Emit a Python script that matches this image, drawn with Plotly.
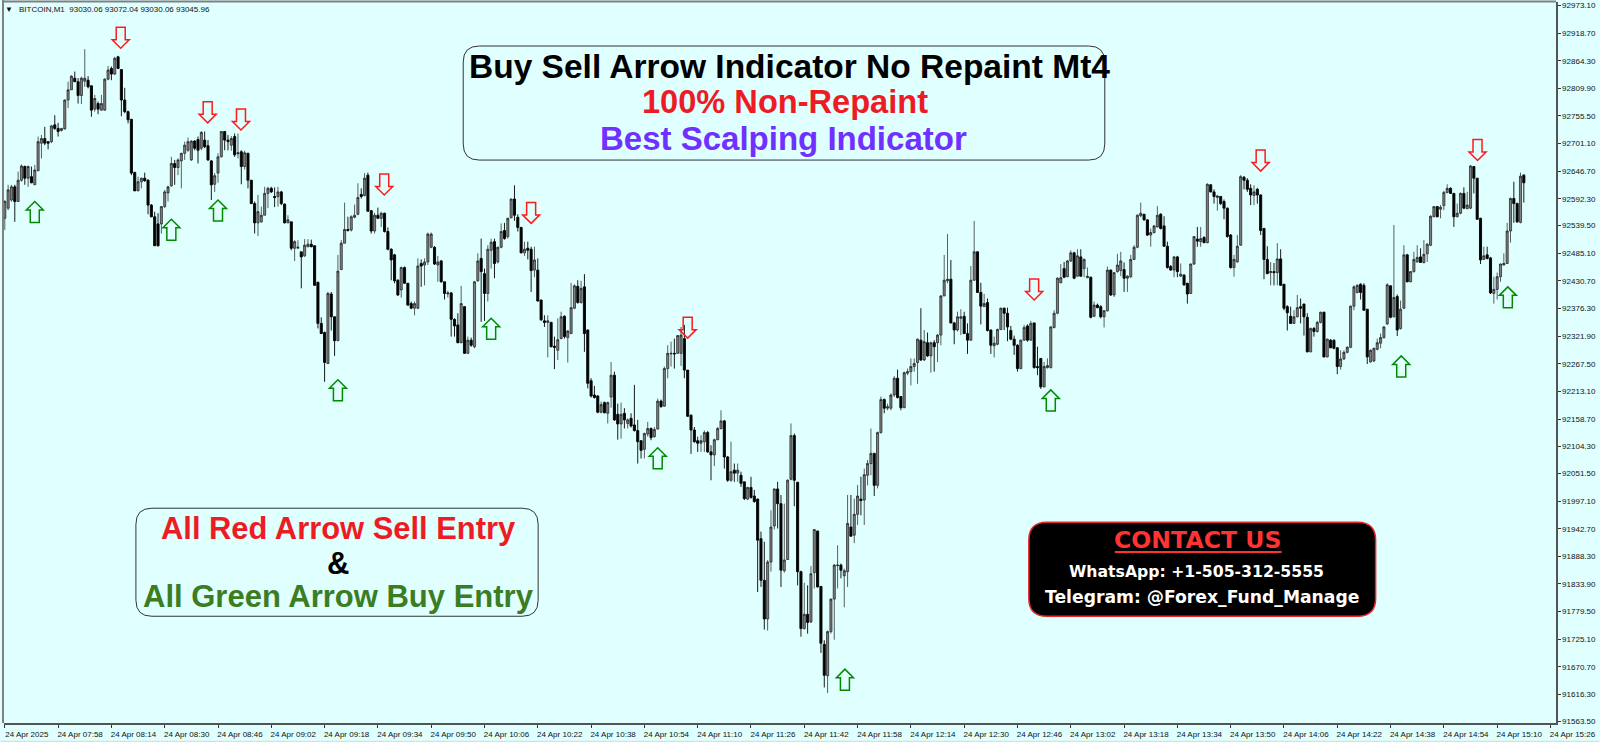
import plotly.graph_objects as go

# One-minute BITCOIN candles, 16 candles per row (one row per time-axis tick).
opens = [
92554,92574,92590,92616,92587,92629,92656,92633,92636,92620,92648,92702,92711,92705,92705,92738,
92731,92727,92730,92787,92807,92830,92823,92796,92824,92826,92815,92769,92780,92767,92767,92828,
92849,92838,92872,92847,92787,92764,92749,92644,92608,92626,92633,92629,92580,92557,92543,92543,
92577,92604,92618,92662,92654,92667,92682,92688,92669,92706,92709,92692,92708,92697,92667,92621,
92643,92675,92725,92708,92698,92715,92681,92685,92656,92682,92629,92583,92545,92547,92560,92603,
92613,92597,92597,92606,92582,92545,92547,92495,92495,92488,92480,92498,92503,92500,92428,92347,
92329,92268,92405,92360,92313,92453,92505,92532,92531,92556,92562,92601,92599,92639,92569,92529,
92560,92554,92564,92528,92493,92482,92432,92413,92457,92426,92386,92377,92377,92465,92462,92468,
92497,92497,92462,92470,92429,92405,92407,92355,92344,92309,92380,92288,92314,92301,92431,92475,
92445,92406,92491,92508,92468,92497,92530,92518,92555,92592,92556,92536,92486,92495,92493,92452,
92452,92393,92352,92349,92349,92302,92294,92317,92361,92319,92327,92377,92420,92388,92419,92334,
92234,92206,92204,92172,92191,92170,92202,92245,92168,92149,92170,92150,92160,92147,92136,92116,
92099,92129,92140,92124,92139,92194,92184,92258,92287,92288,92288,92288,92317,92255,92166,92137,
92116,92111,92114,92132,92094,92088,92118,92140,92155,92084,92038,92058,92052,92048,92035,92001,
92024,92007,92001,91923,91841,91765,91877,91948,92021,91992,91860,91882,92040,92126,92034,91858,
91746,91774,91759,91856,91938,91829,91715,91653,91740,91804,91870,91871,91850,91858,91946,91930,
91971,92001,91999,92048,92071,92091,92028,92132,92197,92180,92180,92206,92239,92203,92181,92249,
92252,92262,92270,92314,92275,92309,92283,92309,92309,92324,92401,92431,92434,92348,92334,92357,
92361,92327,92314,92432,92488,92408,92380,92388,92334,92303,92306,92335,92377,92367,92333,92316,
92304,92258,92314,92342,92314,92348,92262,92278,92222,92260,92260,92339,92367,92427,92455,92439,
92470,92486,92440,92478,92455,92437,92438,92361,92383,92380,92360,92372,92452,92403,92449,92451,
92453,92436,92439,92473,92497,92559,92562,92551,92521,92526,92537,92562,92539,92499,92459,92452,
92478,92440,92442,92426,92406,92464,92513,92508,92516,92506,92620,92606,92595,92597,92587,92574,
92521,92457,92468,92501,92635,92629,92613,92599,92611,92600,92534,92473,92447,92449,92447,92474,
92424,92380,92361,92347,92360,92380,92385,92359,92291,92337,92331,92349,92369,92281,92314,92314,
92299,92262,92277,92290,92300,92381,92408,92424,92422,92375,92271,92273,92296,92308,92319,92346,
92421,92360,92400,92337,92377,92482,92429,92449,92468,92478,92467,92484,92501,92557,92577,92572,
92579,92605,92613,92603,92557,92564,92603,92573,92574,92656,92633,92554,92473,92482,92476,92406,
92414,92439,92462,92465,92529,92593,92583,92546,92639]
highs = [
92590,92620,92620,92620,92646,92660,92658,92658,92656,92659,92715,92718,92734,92705,92738,92757,
92742,92732,92788,92823,92836,92843,92830,92833,92887,92834,92815,92797,92784,92797,92830,92854,
92853,92872,92874,92847,92811,92766,92749,92646,92636,92634,92644,92631,92582,92567,92564,92578,
92610,92618,92675,92669,92672,92683,92705,92713,92708,92708,92715,92726,92725,92708,92669,92643,
92682,92726,92726,92718,92716,92721,92721,92688,92687,92683,92629,92587,92600,92577,92616,92616,
92616,92615,92616,92608,92583,92560,92547,92511,92511,92488,92513,92513,92512,92501,92429,92359,
92331,92409,92409,92361,92482,92511,92585,92557,92560,92581,92623,92613,92643,92644,92570,92565,
92575,92567,92565,92536,92495,92484,92434,92459,92459,92427,92390,92390,92475,92473,92475,92526,
92526,92499,92480,92472,92429,92411,92409,92357,92367,92421,92381,92321,92319,92430,92485,92514,
92455,92501,92514,92514,92498,92544,92545,92555,92593,92619,92562,92537,92508,92508,92498,92498,
92475,92394,92363,92363,92350,92321,92357,92370,92363,92334,92427,92424,92432,92431,92444,92335,
92239,92224,92206,92193,92193,92193,92271,92252,92189,92191,92180,92160,92170,92226,92157,92116,
92132,92153,92142,92143,92199,92197,92262,92304,92311,92317,92324,92340,92344,92255,92168,92143,
92124,92127,92136,92135,92107,92120,92143,92176,92157,92086,92114,92071,92071,92055,92035,92025,
92045,92019,92002,91937,91917,91881,91979,92022,92035,92009,91992,92040,92150,92130,92035,91860,
91836,91831,91869,91942,91939,91829,91723,91742,91805,91873,91910,91874,91864,92009,92009,92002,
92029,92045,92061,92078,92140,92092,92134,92203,92199,92189,92209,92243,92256,92203,92252,92258,
92278,92278,92317,92377,92334,92329,92311,92314,92326,92403,92482,92523,92472,92350,92370,92375,
92370,92347,92460,92549,92489,92427,92405,92396,92335,92321,92337,92378,92378,92378,92342,92323,
92306,92315,92344,92345,92352,92348,92301,92278,92271,92278,92342,92373,92438,92464,92468,92472,
92491,92488,92493,92493,92475,92457,92439,92390,92386,92383,92373,92459,92453,92448,92484,92488,
92467,92442,92482,92501,92562,92585,92562,92552,92534,92541,92578,92564,92558,92508,92462,92480,
92480,92465,92444,92427,92465,92519,92537,92537,92519,92623,92621,92611,92600,92598,92591,92575,
92523,92482,92521,92639,92637,92633,92621,92619,92614,92601,92535,92499,92468,92466,92505,92493,
92425,92383,92380,92373,92403,92396,92386,92367,92339,92340,92352,92370,92370,92317,92316,92315,
92300,92294,92294,92302,92382,92422,92424,92426,92426,92375,92296,92299,92317,92327,92342,92426,
92422,92541,92404,92392,92501,92484,92450,92488,92501,92495,92511,92505,92560,92578,92578,92580,
92608,92621,92615,92604,92583,92605,92615,92606,92659,92657,92633,92555,92498,92498,92478,92439,
92447,92465,92485,92545,92595,92626,92585,92644,92641]
lows = [
92531,92570,92587,92547,92587,92626,92620,92616,92623,92620,92646,92672,92698,92690,92702,92728,
92715,92725,92729,92771,92807,92823,92780,92779,92813,92810,92754,92764,92759,92766,92766,92826,
92826,92836,92849,92755,92761,92741,92639,92608,92608,92613,92626,92562,92556,92500,92498,92524,
92574,92587,92616,92620,92639,92613,92669,92685,92667,92688,92662,92688,92692,92667,92590,92606,
92624,92674,92688,92688,92687,92675,92672,92621,92650,92613,92582,92524,92519,92545,92560,92574,
92604,92576,92577,92580,92544,92545,92491,92470,92495,92416,92478,92497,92497,92421,92337,92326,
92232,92267,92333,92283,92312,92452,92505,92528,92528,92554,92560,92593,92597,92567,92524,92524,
92554,92537,92526,92491,92432,92426,92401,92398,92425,92382,92375,92363,92375,92419,92422,92462,
92495,92462,92429,92427,92394,92398,92321,92321,92308,92308,92287,92287,92301,92298,92429,92350,
92352,92390,92455,92436,92465,92495,92512,92514,92554,92549,92528,92485,92480,92473,92409,92438,
92390,92352,92340,92280,92300,92257,92275,92316,92317,92270,92326,92375,92386,92386,92291,92219,
92201,92199,92170,92170,92170,92150,92181,92155,92118,92120,92140,92140,92142,92134,92071,92081,
92081,92124,92117,92122,92138,92181,92183,92239,92262,92258,92287,92263,92239,92163,92090,92112,
92094,92094,92094,92092,92038,92066,92117,92138,92061,92035,92035,92035,92035,92025,91999,91999,
92002,91994,91818,91828,91744,91742,91858,91941,91943,91828,91856,91881,92038,91987,91831,91730,
91744,91736,91757,91825,91827,91698,91630,91619,91736,91724,91825,91845,91788,91828,91927,91914,
91950,91969,91950,92028,92048,92007,92022,92130,92170,92176,92176,92202,92199,92176,92180,92245,
92225,92252,92228,92273,92273,92281,92250,92252,92271,92304,92401,92426,92347,92306,92331,92324,
92326,92287,92313,92431,92407,92345,92380,92331,92287,92280,92304,92334,92334,92312,92314,92285,
92252,92257,92313,92311,92313,92258,92245,92218,92221,92258,92258,92337,92365,92426,92436,92438,
92468,92434,92439,92439,92438,92436,92357,92360,92377,92357,92339,92370,92401,92399,92447,92440,
92409,92409,92436,92472,92495,92556,92549,92519,92498,92524,92536,92532,92498,92455,92451,92438,
92438,92439,92421,92386,92405,92462,92498,92498,92505,92505,92605,92583,92569,92580,92552,92516,
92455,92439,92467,92500,92611,92606,92580,92580,92583,92521,92434,92444,92422,92422,92422,92421,
92373,92333,92346,92346,92359,92347,92323,92290,92290,92321,92329,92347,92280,92280,92298,92296,
92247,92256,92275,92288,92298,92373,92406,92394,92372,92267,92270,92271,92294,92298,92317,92344,
92357,92359,92322,92335,92375,92428,92428,92447,92467,92466,92465,92468,92499,92556,92556,92554,
92570,92603,92602,92537,92556,92562,92572,92572,92572,92603,92551,92464,92472,92473,92405,92386,
92394,92429,92461,92464,92506,92545,92545,92544,92585]
closes = [
92587,92610,92616,92587,92629,92657,92633,92656,92624,92649,92705,92711,92702,92702,92736,92731,
92725,92731,92787,92807,92834,92823,92796,92830,92830,92813,92767,92790,92769,92780,92828,92846,
92838,92869,92849,92787,92764,92748,92643,92608,92626,92633,92628,92580,92557,92500,92500,92577,
92606,92616,92662,92654,92669,92682,92698,92705,92706,92692,92688,92723,92695,92669,92620,92638,
92675,92725,92708,92705,92711,92679,92683,92656,92683,92629,92583,92545,92567,92560,92603,92613,
92606,92595,92606,92583,92545,92551,92495,92508,92497,92478,92501,92503,92498,92422,92347,92327,
92270,92406,92360,92313,92450,92505,92532,92530,92557,92560,92595,92597,92633,92568,92529,92560,
92554,92564,92528,92493,92472,92431,92403,92457,92426,92383,92377,92386,92460,92460,92468,92523,
92523,92464,92468,92429,92406,92407,92355,92342,92309,92386,92288,92314,92304,92429,92470,92449,
92406,92493,92507,92465,92497,92528,92514,92554,92592,92560,92536,92486,92493,92491,92451,92472,
92391,92354,92349,92352,92301,92300,92315,92360,92321,92332,92378,92421,92388,92416,92327,92229,
92204,92201,92172,92187,92171,92191,92245,92157,92149,92168,92157,92157,92145,92136,92114,92097,
92130,92140,92122,92138,92194,92183,92258,92288,92288,92287,92323,92324,92255,92164,92137,92114,
92111,92116,92132,92094,92088,92118,92140,92155,92084,92038,92055,92052,92058,92032,92002,92024,
92004,91996,91920,91841,91765,91877,91946,92021,91992,91861,91881,92038,92126,92038,91858,91746,
91774,91758,91854,91941,91828,91717,91654,91740,91804,91871,91871,91861,91860,91953,91928,91971,
92007,91998,92049,92071,92091,92028,92132,92197,92180,92183,92206,92239,92201,92181,92250,92252,
92262,92268,92316,92275,92311,92283,92309,92301,92324,92401,92432,92434,92348,92334,92360,92360,
92327,92314,92432,92488,92408,92381,92386,92333,92304,92308,92335,92377,92367,92340,92316,92304,
92258,92314,92339,92314,92347,92260,92260,92222,92262,92264,92340,92367,92436,92437,92438,92470,
92486,92436,92480,92440,92473,92440,92359,92383,92378,92360,92372,92452,92403,92447,92462,92470,
92436,92440,92473,92497,92560,92564,92551,92521,92526,92539,92560,92534,92499,92457,92452,92478,
92449,92444,92423,92405,92464,92518,92509,92514,92506,92621,92606,92597,92598,92583,92574,92518,
92457,92473,92499,92636,92629,92611,92600,92606,92600,92530,92473,92445,92449,92447,92474,92422,
92377,92368,92347,92360,92378,92377,92360,92291,92337,92331,92349,92369,92281,92316,92299,92298,
92262,92277,92290,92300,92381,92419,92422,92408,92373,92281,92294,92298,92309,92319,92340,92423,
92359,92398,92334,92375,92482,92429,92449,92473,92477,92467,92483,92503,92558,92577,92557,92576,
92605,92613,92603,92557,92564,92603,92574,92580,92657,92633,92552,92472,92480,92475,92407,92414,
92439,92464,92465,92529,92593,92583,92547,92637,92624]

time_labels = ["24 Apr 2025","24 Apr 07:58","24 Apr 08:14","24 Apr 08:30","24 Apr 08:46","24 Apr 09:02",
               "24 Apr 09:18","24 Apr 09:34","24 Apr 09:50","24 Apr 10:06","24 Apr 10:22","24 Apr 10:38",
               "24 Apr 10:54","24 Apr 11:10","24 Apr 11:26","24 Apr 11:42","24 Apr 11:58","24 Apr 12:14",
               "24 Apr 12:30","24 Apr 12:46","24 Apr 13:02","24 Apr 13:18","24 Apr 13:34","24 Apr 13:50",
               "24 Apr 14:06","24 Apr 14:22","24 Apr 14:38","24 Apr 14:54","24 Apr 15:10","24 Apr 15:26"]
price_ticks = [92973.10,92918.70,92864.30,92809.90,92755.50,92701.10,92646.70,92592.30,92539.50,
               92485.10,92430.70,92376.30,92321.90,92267.50,92213.10,92158.70,92104.30,92051.50,
               91997.10,91942.70,91888.30,91833.90,91779.50,91725.10,91670.70,91616.30,91563.50]

sell_candle = [34.8,60.9,70.9,113.9,158,205,309,377,442.1]
sell_price  = [92889,92742,92728,92600,92544,92318,92393,92647,92668]
buy_candle  = [9,50,64,100,146,196,252.2,314,419.2,451.2]
buy_price   = [92587,92552,92590,92236,92357,92102,91666,92216,92283,92419]

# page geometry
W, H = 1600, 742
L, R, T, B = 3.5, 1556.5, 2, 722.7
BG = "#E0FFFF"
SANS = "Liberation Sans"
def xp(x): return (x - L) / (R - L)
def yp(y): return 1 - (y - T) / (B - T)

n = min(len(opens), len(highs), len(lows), len(closes))
idx = list(range(n))

fig = go.Figure(go.Candlestick(
    x=idx, open=opens[:n], high=highs[:n], low=lows[:n], close=closes[:n],
    increasing=dict(line=dict(color="#1a1a1a", width=0.7), fillcolor="#808080"),
    decreasing=dict(line=dict(color="#000000", width=0.9), fillcolor="#000000"),
    whiskerwidth=0, hoverinfo="skip", showlegend=False))

shapes = []
DOWN = "M -4.5 21 L 4.5 21 L 4.5 8.5 L 8.5 8.5 L 0 0 L -8.5 8.5 L -4.5 8.5 Z"
UP   = "M -4.5 -21 L 4.5 -21 L 4.5 -8.5 L 8.5 -8.5 L 0 0 L -8.5 -8.5 L -4.5 -8.5 Z"
for c, p in zip(sell_candle, sell_price):
    shapes.append(dict(type="path", xref="x", yref="y", xsizemode="pixel", ysizemode="pixel",
                       xanchor=c, yanchor=p, path=DOWN, line=dict(color="#FF1A1A", width=1.5)))
for c, p in zip(buy_candle, buy_price):
    shapes.append(dict(type="path", xref="x", yref="y", xsizemode="pixel", ysizemode="pixel",
                       xanchor=c, yanchor=p, path=UP, line=dict(color="#008A00", width=1.5)))

def round_box(x0, y0, x1, y1, r, line, fill="rgba(0,0,0,0)", width=1):
    a, b, c, d = xp(x0), xp(x1), yp(y0), yp(y1)
    rx, ry = r / (R - L), r / (B - T)
    path = (f"M {a+rx} {c} L {b-rx} {c} Q {b} {c} {b} {c-ry} L {b} {d+ry} Q {b} {d} {b-rx} {d} "
            f"L {a+rx} {d} Q {a} {d} {a} {d+ry} L {a} {c-ry} Q {a} {c} {a+rx} {c} Z")
    return dict(type="path", xref="paper", yref="paper", path=path, fillcolor=fill,
                line=dict(color=line, width=width), layer="above")

shapes += [
    round_box(463, 46, 1105, 160, 16, "#333333"),
    round_box(135.5, 508, 538, 616, 16, "#333333"),
    round_box(1029, 522, 1376, 616, 18, "#E8282E", fill="#000000", width=1.5),
    dict(type="line", xref="paper", yref="paper", x0=xp(1115), x1=xp(1282), y0=yp(551.8), y1=yp(551.8),
         line=dict(color="#FF3333", width=2), layer="above"),
    dict(type="line", xref="paper", yref="paper", x0=xp(2.5), x1=xp(2.5), y0=yp(0), y1=yp(B),
         line=dict(color="#808080", width=2), layer="above"),
    dict(type="line", xref="paper", yref="paper", x0=xp(2), x1=xp(R), y0=yp(1.5), y1=yp(1.5),
         line=dict(color="#808080", width=2), layer="above"),
    dict(type="line", xref="paper", yref="paper", x0=xp(0), x1=xp(W), y0=yp(741), y1=yp(741),
         line=dict(color="#D8D8D8", width=1), layer="above"),
]

def label(text, x, y, size, color, family=SANS, bold=True, xanchor="center"):
    return dict(xref="paper", yref="paper", x=xp(x), y=yp(y), xanchor=xanchor, yanchor="middle",
                text=f"<b>{text}</b>" if bold else text, showarrow=False,
                font=dict(family=family, size=size, color=color))

annotations = [
    label("Buy Sell Arrow Indicator No Repaint Mt4", 790, 66, 33.5, "#000000"),
    label("100% Non-Repaint", 785, 101, 32.6, "#ED1C24"),
    label("Best Scalping Indicator", 784, 138, 33, "#7030FF"),
    label("All Red Arrow Sell Entry", 338, 528, 30.9, "#ED1C24"),
    label("&amp;", 338, 563, 31, "#000000"),
    label("All Green Arrow Buy Entry", 338, 596, 31, "#3A7D22"),
    label("CONTACT US", 1198, 540, 23.6, "#FF3333", family="DejaVu Sans"),
    label("WhatsApp: +1-505-312-5555", 1197, 571, 15.7, "#FFFFFF", family="DejaVu Sans"),
    label("Telegram: @Forex_Fund_Manage", 1202, 597, 17.2, "#FFFFFF", family="DejaVu Sans"),
    label("BITCOIN,M1  93030.06 93072.04 93030.06 93045.96", 16.5, 9, 8, "#111111", bold=False, xanchor="left"),
    label("▼", 9, 9, 8, "#111111", bold=False),
]

fig.update_layout(
    width=W, height=H, autosize=False,
    margin=dict(l=L, r=W - R, t=T, b=H - B, pad=0, autoexpand=False),
    paper_bgcolor=BG, plot_bgcolor=BG, showlegend=False, dragmode=False,
    boxgap=0.3, boxgroupgap=0.1,
    shapes=shapes, annotations=annotations,
    xaxis=dict(range=[-0.24, 465.66], rangeslider=dict(visible=False), showgrid=False, zeroline=False,
               tickmode="array", tickvals=[16 * k for k in range(len(time_labels))], ticktext=time_labels,
               tickangle=0, ticks="outside", ticklen=3, tickwidth=1, tickcolor="#333333",
               showline=True, linecolor="#555555", linewidth=1.5,
               ticklabelshift=22, ticklabelstandoff=0,
               tickfont=dict(family=SANS, size=8, color="#111111")),
    yaxis=dict(range=[91560, 92980], side="right", showgrid=False, zeroline=False,
               tickmode="array", tickvals=price_ticks, ticktext=[f"{v:.2f}" for v in price_ticks],
               ticks="outside", ticklen=3, tickwidth=1, tickcolor="#333333",
               showline=True, linecolor="#555555", linewidth=1.5,
               tickfont=dict(family=SANS, size=8, color="#111111")),
)

fig.write_html("out.html", config=dict(displayModeBar=False, staticPlot=True),
               post_script="document.documentElement.style.overflow='hidden';"
                           "document.body.style.overflow='hidden';document.body.style.margin='0';")
